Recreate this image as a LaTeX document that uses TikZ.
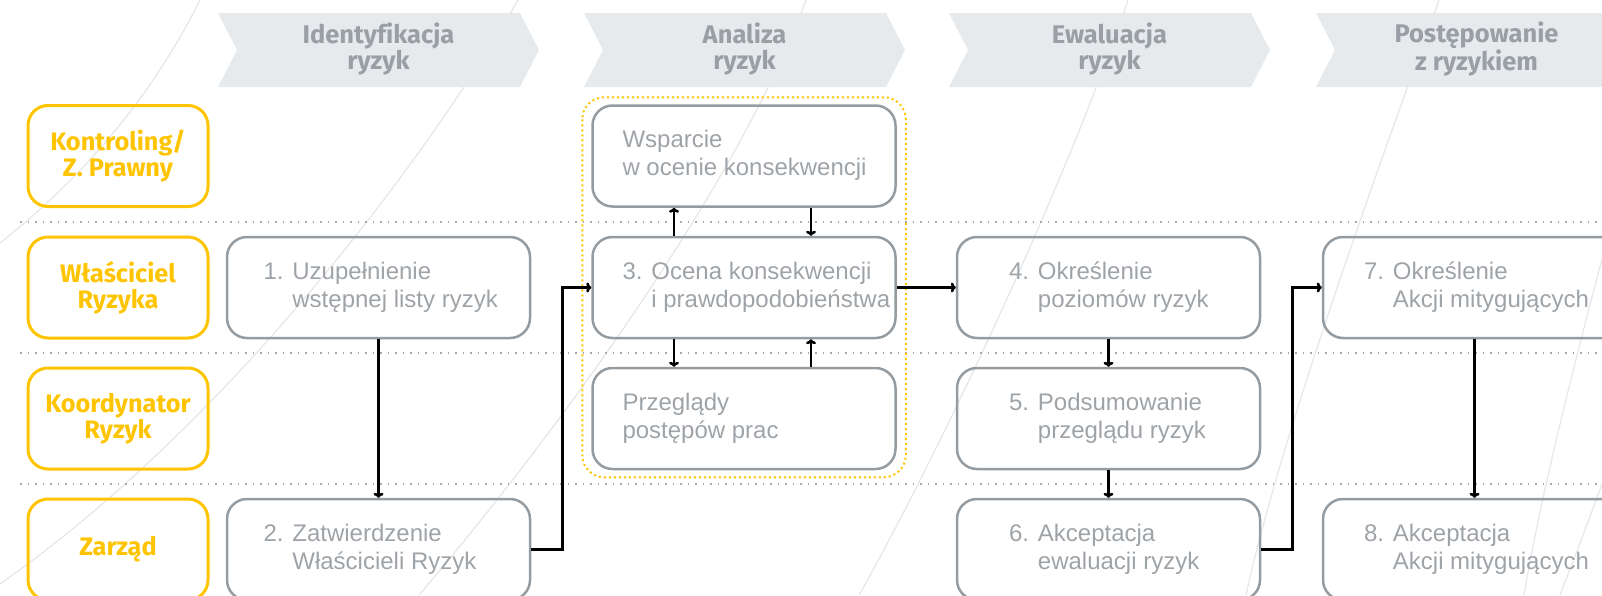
\documentclass[tikz,border=0pt]{standalone}
\usepackage{fontspec}
\setmainfont{Liberation Sans}
\newfontfamily\phasefont[Ligatures=NoCommon]{Fira Sans}
\usepackage{tikz}
\usetikzlibrary{arrows.meta}
\definecolor{laneyellow}{HTML}{FFC400}
\definecolor{headfill}{HTML}{E6EAED}
\definecolor{headtext}{HTML}{999FA4}
\definecolor{boxgrey}{HTML}{959CA1}
\definecolor{txtgrey}{HTML}{9EA3A8}
\definecolor{sepgrey}{HTML}{A8A8A8}
\definecolor{arcgrey}{HTML}{E6E6E6}
\tikzset{
  stepbox/.style={draw=boxgrey, line width=2.5pt, rounded corners=20pt,
    minimum width=303pt, minimum height=101pt, inner sep=0pt, align=left,
    text=txtgrey, font=\fontsize{24}{28}\selectfont},
  lanebox/.style={draw=laneyellow, line width=3pt, rounded corners=20pt,
    minimum width=180pt, minimum height=101pt, inner sep=0pt, align=center,
    text=laneyellow, font=\phasefont\bfseries\fontsize{25.3}{26.5}\selectfont},
  phasetext/.style={align=center, text=headtext,
    font=\phasefont\bfseries\fontsize{25.5}{25.5}\selectfont},
  flow/.style={-{To[length=5pt,width=10pt]}, line width=2.6pt},
  lanesep/.style={draw=sepgrey, line width=1.5pt, dash pattern=on 1.5pt off 6pt},
  groupbox/.style={draw=laneyellow, line width=2pt, dash pattern=on 2pt off 3pt,
    rounded corners=22pt},
  bgarc/.style={draw=arcgrey, line width=1.2pt}
}
\newcommand{\stepno}[3]{#1. #2\\\phantom{#1. }#3}
\newcommand{\leftblock}[2][243pt]{\makebox[#1][l]{\begin{tabular}{@{}l@{}}#2\end{tabular}}}
\newcommand{\phasebar}[3]{%
  \fill[headfill] (#1,13) -- ++(302,0) -- ++(19,37) -- ++(-19,37) -- ++(-302,0) -- ++(19,-37) -- cycle;
  \node[phasetext] (#2) at (#1+160.5,49) {#3};}

\begin{document}
\begin{tikzpicture}[x=1pt,y=-1pt]
\useasboundingbox (0,0) rectangle (1602,595);
\clip (0,0) rectangle (1602,595);
% background arcs
\draw[bgarc] (200,0) .. controls (150,100) and (80,180) .. (0,243);
\draw[bgarc] (518,0) .. controls (420,170) and (220,430) .. (0,584);
\draw[bgarc] (806,0) .. controls (740,180) and (560,430) .. (419,595);
\draw[bgarc] (1128,0) .. controls (1060,200) and (930,470) .. (859,595);
\draw[bgarc] (1439,0) .. controls (1370,190) and (1280,440) .. (1246,595);
\draw[bgarc] (1602,259) .. controls (1570,380) and (1540,500) .. (1524,595);
\draw[bgarc] (1602,484) .. controls (1585,530) .. (1560,595);
% phases
\phasebar{218}{p1}{Identyfikacja\\ryzyk}
\phasebar{584}{p2}{Analiza\\ryzyk}
\phasebar{949}{p3}{Ewaluacja\\ryzyk}
\phasebar{1316}{p4}{Postępowanie\\z ryzykiem}
% lanes
\draw[lanesep] (20,222) -- (1602,222);
\draw[lanesep] (20,353) -- (1602,353);
\draw[lanesep] (20,484) -- (1602,484);
\node[lanebox] (l1) at (118,156) {Kontroling/\\Z. Prawny};
\node[lanebox] (l2) at (118,287.5) {Właściciel\\Ryzyka};
\node[lanebox] (l3) at (118,418.5) {Koordynator\\Ryzyk};
\node[lanebox] (l4) at (118,549.5) {Zarząd};
% steps
\node[stepbox] (s1) at (378.5,287.5) {\leftblock[230pt]{\stepno{1}{Uzupełnienie}{wstępnej listy ryzyk}}};
\node[stepbox] (s2) at (378.5,549.5) {\leftblock[230pt]{\stepno{2}{Zatwierdzenie}{Właścicieli Ryzyk}}};
\node[stepbox] (sup) at (744,156) {\leftblock{Wsparcie\\w ocenie konsekwencji}};
\node[stepbox] (s3) at (744,287.5) {\leftblock{\stepno{3}{Ocena konsekwencji}{i prawdopodobieństwa}}};
\node[stepbox] (rev) at (744,418.5) {\leftblock{Przeglądy\\postępów prac}};
\node[stepbox] (s4) at (1108.5,287.5) {\leftblock[199pt]{\stepno{4}{Określenie}{poziomów ryzyk}}};
\node[stepbox] (s5) at (1108.5,418.5) {\leftblock[199pt]{\stepno{5}{Podsumowanie}{przeglądu ryzyk}}};
\node[stepbox] (s6) at (1108.5,549.5) {\leftblock[199pt]{\stepno{6}{Akceptacja}{ewaluacji ryzyk}}};
\node[stepbox] (s7) at (1474.5,287.5) {\leftblock[221pt]{\stepno{7}{Określenie}{Akcji mitygujących}}};
\node[stepbox] (s8) at (1474.5,549.5) {\leftblock[221pt]{\stepno{8}{Akceptacja}{Akcji mitygujących}}};
\draw[groupbox] ([shift={(-9pt,7pt)}]sup.north west) rectangle ([shift={(9pt,-7pt)}]rev.south east);
% flow
\draw[flow] (s1.south) -- (s2.north);
\draw[flow] (s2.east) -- ++(31,0) |- (s3.west);
\draw[flow] ([xshift=-70pt]s3.north) -- ([xshift=-70pt]sup.south);
\draw[flow] ([xshift=67pt]sup.south) -- ([xshift=67pt]s3.north);
\draw[flow] ([xshift=-70pt]s3.south) -- ([xshift=-70pt]rev.north);
\draw[flow] ([xshift=67pt]rev.north) -- ([xshift=67pt]s3.south);
\draw[flow] (s3.east) -- (s4.west);
\draw[flow] (s4.south) -- (s5.north);
\draw[flow] (s5.south) -- (s6.north);
\draw[flow] (s6.east) -- ++(31,0) |- (s7.west);
\draw[flow] (s7.south) -- (s8.north);
\end{tikzpicture}
\end{document}
